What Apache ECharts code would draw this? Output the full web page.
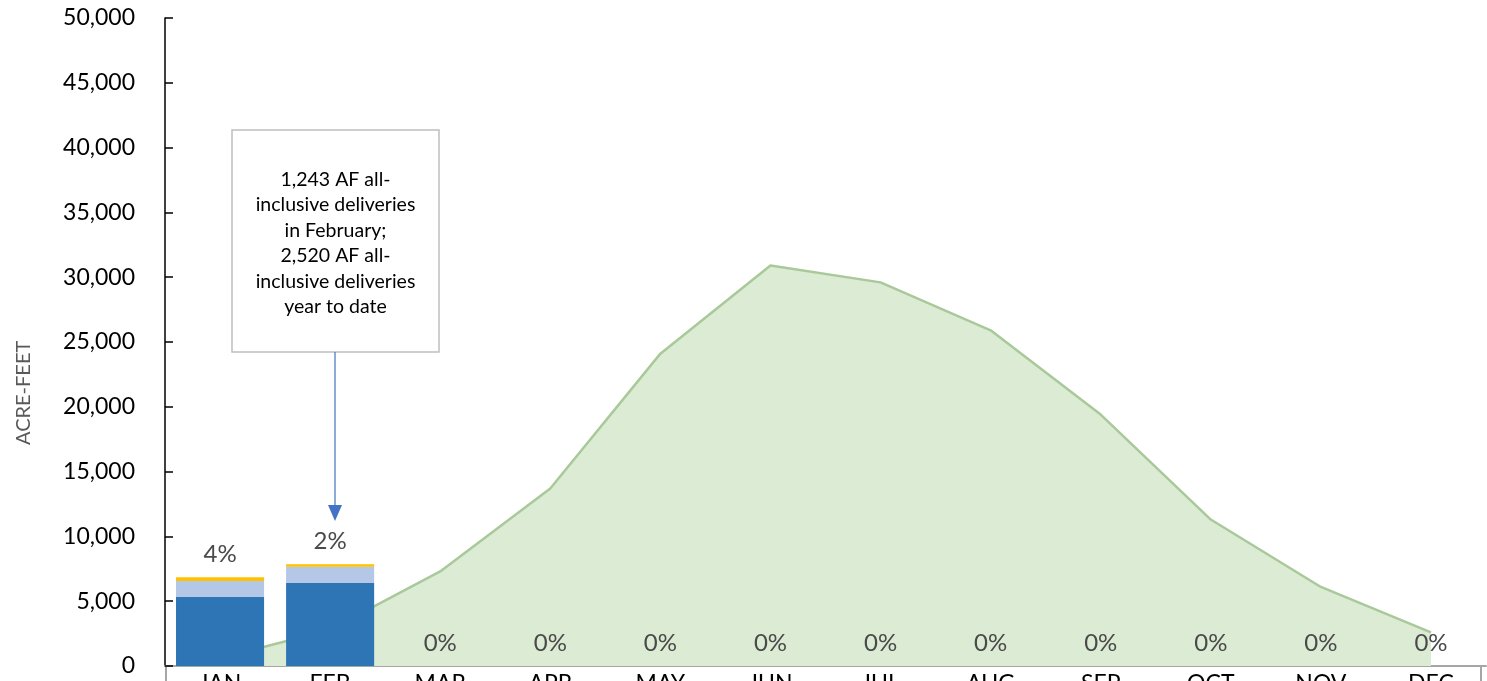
<!DOCTYPE html>
<html lang="en">
  <head>
    <meta charset="UTF-8" />
    <title>Deliveries</title>
    <style>
      html, body { margin: 0; padding: 0; background: #fff; }
      #main { width: 1487px; height: 681px; }
    </style>
  </head>
  <body>
    <div id="main"></div>

    <script src="https://cdn.jsdelivr.net/npm/echarts@6/dist/echarts.min.js"></script>
    <script>
      var myChart = echarts.init(document.getElementById("main"), null, {
        renderer: "canvas",
      });

      // data
      var months = ["JAN", "FEB", "MAR", "APR", "MAY", "JUN", "JUL", "AUG", "SEP", "OCT", "NOV", "DEC"];
      var demand = [600, 2800, 7300, 13700, 24100, 30900, 29600, 25900, 19400, 11300, 6100, 2600];
      var darkPart = [5320, 6400, 0, 0, 0, 0, 0, 0, 0, 0, 0, 0];
      var lightPart = [1240, 1260, 0, 0, 0, 0, 0, 0, 0, 0, 0, 0];
      var yellowPart = [280, 200, 0, 0, 0, 0, 0, 0, 0, 0, 0, 0];
      var pctLabels = ["4%", "2%", "0%", "0%", "0%", "0%", "0%", "0%", "0%", "0%", "0%", "0%"];

      var font = "Lato, 'Open Sans', sans-serif";

      var option = {
        backgroundColor: "#fff",
        animation: false,
        textStyle: { fontFamily: font },
        grid: { left: 165, right: 1, top: 18, bottom: 15, containLabel: false, outerBoundsMode: "none" },
        xAxis: {
          type: "category",
          data: months,
          boundaryGap: true,
          axisLine: { lineStyle: { color: "#a6a6a6", width: 2 } },
          axisTick: { show: false },
          axisLabel: {
            fontSize: 23,
            color: "#000",
            margin: 6,
            fontFamily: font,
          },
        },
        yAxis: {
          type: "value",
          min: 0,
          max: 50000,
          interval: 5000,
          splitLine: { show: false },
          axisLine: { show: true, lineStyle: { color: "#000", width: 1.5 } },
          axisTick: { show: true, inside: true, length: 8, lineStyle: { color: "#000", width: 1.5 } },
          axisLabel: {
            fontSize: 23,
            color: "#000",
            margin: 30,
            fontFamily: font,
            formatter: function (v) {
              return v.toLocaleString("en-US");
            },
          },
        },
        series: [
          {
            name: "Demand",
            type: "line",
            data: demand,
            symbol: "none",
            z: 1,
            lineStyle: { color: "#a9c99b", width: 2.5 },
            areaStyle: { color: "#dcebd3", opacity: 1 },
          },
          {
            name: "Dark",
            type: "bar",
            stack: "d",
            data: darkPart,
            barCategoryGap: "20%",
            z: 3,
            itemStyle: { color: "#2e75b6" },
          },
          {
            name: "Light",
            type: "bar",
            stack: "d",
            data: lightPart,
            z: 3,
            itemStyle: { color: "#b4c7e7" },
          },
          {
            name: "Yellow",
            type: "bar",
            stack: "d",
            data: yellowPart,
            z: 3,
            itemStyle: { color: "#ffc000" },
          },
          {
            name: "Pct",
            type: "bar",
            stack: "d",
            data: pctLabels.map(function () { return 0; }),
            z: 4,
            itemStyle: { color: "transparent" },
            label: {
              show: true,
              position: "top",
              distance: 11,
              fontSize: 24,
              color: "#4a4a4a",
              fontFamily: font,
              formatter: function (p) {
                return pctLabels[p.dataIndex];
              },
            },
          },
        ],
        graphic: [
          {
            type: "text",
            rotation: Math.PI / 2,
            x: 14,
            y: 445,
            style: {
              text: "ACRE-FEET",
              fontSize: 20,
              fill: "#595959",
              fontFamily: font,
            },
          },
          // data-table style box under the axis
          {
            type: "line",
            shape: { x1: 166, y1: 666, x2: 166, y2: 681 },
            style: { stroke: "#a6a6a6", lineWidth: 2 },
          },
          {
            type: "line",
            shape: { x1: 1481, y1: 666, x2: 1481, y2: 681 },
            style: { stroke: "#a6a6a6", lineWidth: 2 },
          },
          // annotation
          {
            type: "rect",
            z: 10,
            shape: { x: 232, y: 130, width: 207, height: 222 },
            style: { fill: "#fff", stroke: "#bfbfbf", lineWidth: 1.5 },
          },
          {
            type: "text",
            z: 11,
            x: 335.5,
            y: 243,
            style: {
              text: "1,243 AF all-\ninclusive deliveries\nin February;\n2,520 AF all-\ninclusive deliveries\nyear to date",
              fontSize: 19.5,
              lineHeight: 25.5,
              fill: "#000",
              align: "center",
              verticalAlign: "middle",
              fontFamily: font,
            },
          },
          {
            type: "line",
            z: 10,
            shape: { x1: 335, y1: 352, x2: 335, y2: 508 },
            style: { stroke: "#4472c4", lineWidth: 1.2 },
          },
          {
            type: "polygon",
            z: 10,
            shape: { points: [[328, 505], [342, 505], [335, 521]] },
            style: { fill: "#4472c4" },
          },
        ],
      };
      myChart.setOption(option);
    </script>
  </body>
</html>
